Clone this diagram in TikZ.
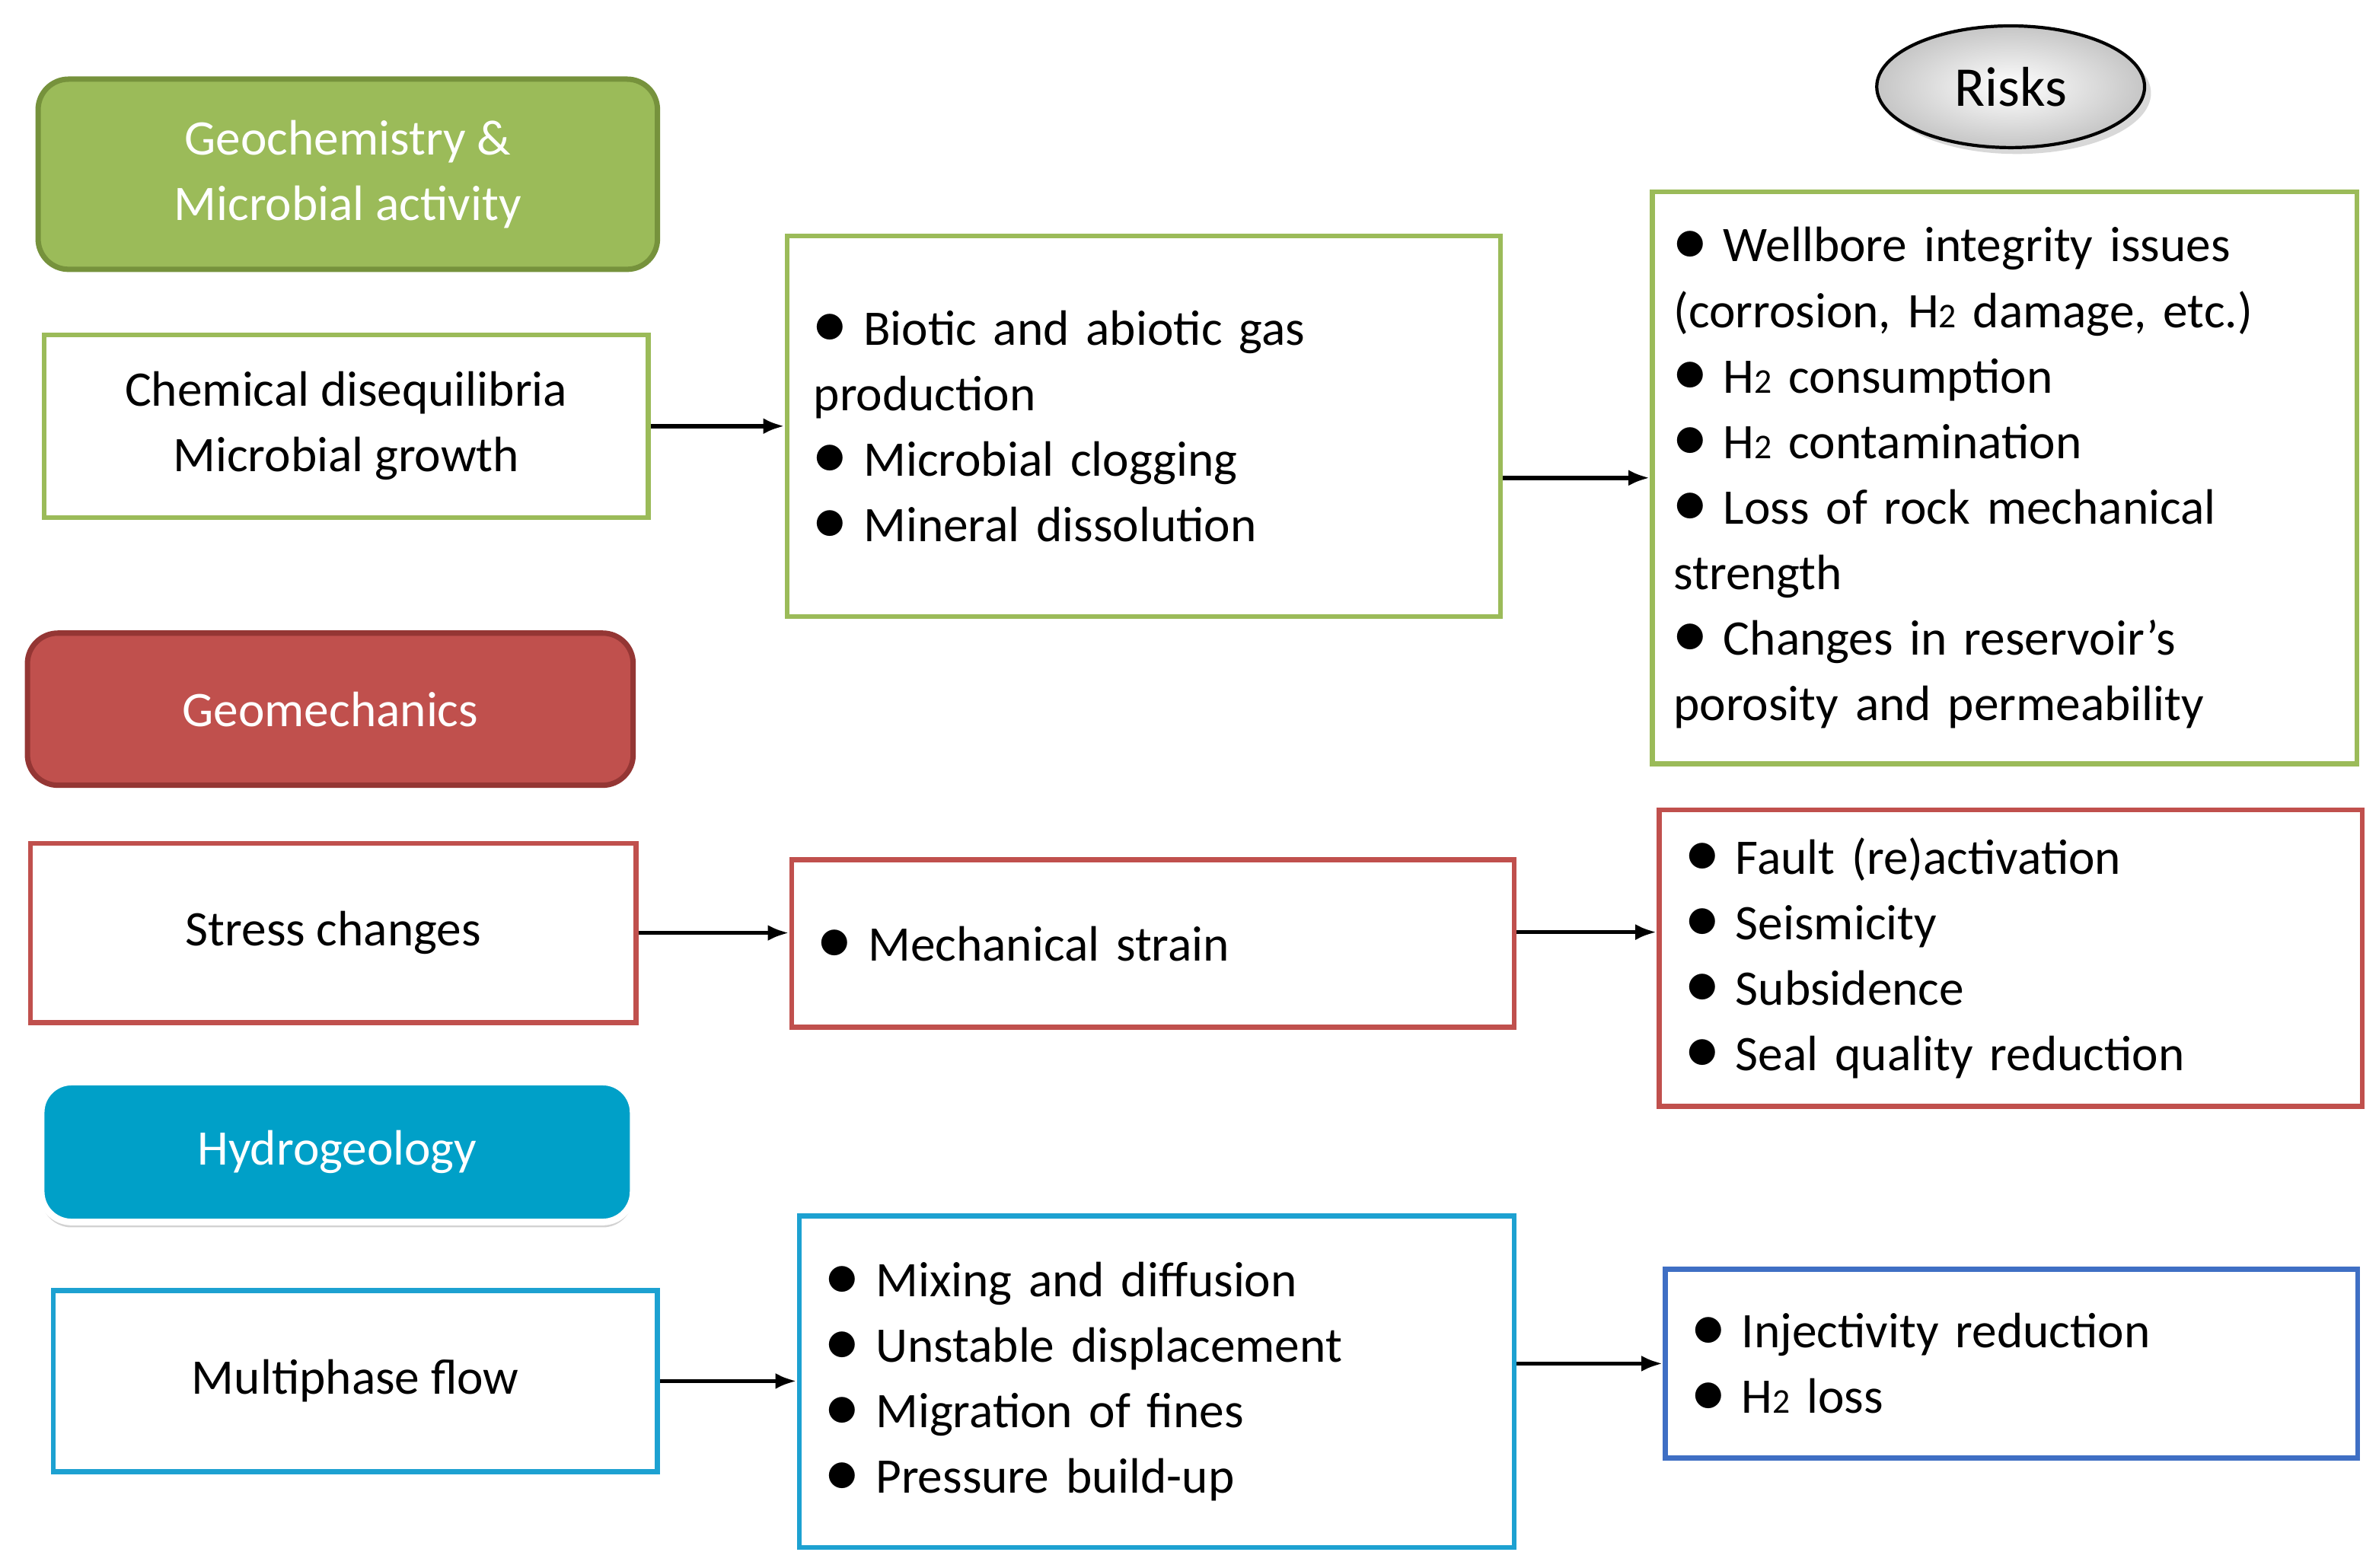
\documentclass[tikz,border=0pt]{standalone}
\usepackage{fontspec}
\setmainfont{Carlito}
\usetikzlibrary{arrows.meta,shadows,shapes.geometric}
\definecolor{gA}{HTML}{9BBB59}\definecolor{gB}{HTML}{76923C}
\definecolor{rA}{HTML}{C0504D}\definecolor{rB}{HTML}{943634}
\definecolor{cA}{HTML}{00A0C8}\definecolor{cB}{HTML}{1DA1D1}
\definecolor{bB}{HTML}{3F6FC4}
\newcommand{\bl}{\raisebox{0.05ex}{\fontsize{26}{20}\selectfont$\bullet$}\ }
\newcommand{\Hh}{H{\fontsize{13}{13}\selectfont 2}}
\tikzset{
 every node/.style={font=\fontsize{18.6}{24.5}\selectfont},
 hdr/.style={draw, line width=2pt, rounded corners=0.4cm, text=white, align=center},
 box/.style={draw, line width=1.8pt, fill=white, align=center},
 lst/.style={draw, line width=1.8pt, fill=white, align=left, inner xsep=0.35cm},
 arr/.style={line width=1.6pt, -{Latex[length=8pt,width=6pt]}}
}
\begin{document}
\begin{tikzpicture}[x=0.02cm,y=-0.02cm]
\useasboundingbox[fill=white] (0,0) rectangle (1563,1030);
\node[hdr, fill=gA, draw=gB, minimum width=8.14cm, minimum height=2.5cm] (geoh) at (228.5,114.5) {Geochemistry \&\\Microbial activity};
\node[box, draw=gA, minimum width=7.94cm, minimum height=2.4cm] (chem) at (227.5,280) {Chemical disequilibria\\Microbial growth};
\node[lst, draw=gA, minimum width=9.38cm, minimum height=5cm, text width=8.68cm] (mid1) at (751.5,280) {\bl Biotic and abiotic gas\\production\\\bl Microbial clogging\\\bl Mineral dissolution};
\node[lst, draw=gA, minimum width=9.16cm, minimum height=7.52cm, text width=8.7cm, inner xsep=0.28cm] (risk1) at (1317,314) {\bl Wellbore integrity issues\\(corrosion, \Hh{} damage, etc.)\\\bl \Hh{} consumption\\\bl \Hh{} contamination\\\bl Loss of rock mechanical\\strength\\\bl Changes in reservoir's\\porosity and permeability};
\node[ellipse, draw, line width=1.2pt, inner color=white, outer color=gray!45, minimum width=3.52cm, minimum height=1.6cm, drop shadow={opacity=0.3}] (risks) at (1321,57) {\fontsize{21}{22}\selectfont Risks};
\node[hdr, fill=rA, draw=rB, minimum width=7.96cm, minimum height=2cm] (gmh) at (217,466) {Geomechanics};
\node[box, draw=rA, minimum width=7.96cm, minimum height=2.36cm] (stress) at (219,613) {Stress changes};
\node[lst, draw=rA, minimum width=9.5cm, minimum height=2.2cm, text width=8.8cm] (mech) at (757.5,620) {\bl Mechanical strain};
\node[lst, draw=rA, minimum width=9.24cm, minimum height=3.9cm, text width=8.54cm] (risk2) at (1321,629.5) {\bl Fault (re)activation\\\bl Seismicity\\\bl Subsidence\\\bl Seal quality reduction};
\node[hdr, fill=cA, draw=white, line width=2.5pt, minimum width=7.78cm, minimum height=1.84cm, drop shadow={opacity=0.35,shadow xshift=0pt,shadow yshift=-2pt}] (hyh) at (221.5,757) {Hydrogeology};
\node[box, draw=cB, minimum width=7.94cm, minimum height=2.38cm] (multi) at (233.5,907.5) {Multiphase flow};
\node[lst, draw=cB, minimum width=9.4cm, minimum height=4.36cm, text width=8.7cm] (mid3) at (760,908) {\bl Mixing and diffusion\\\bl Unstable displacement\\\bl Migration of fines\\\bl Pressure build-up};
\node[lst, draw=bB, minimum width=9.1cm, minimum height=2.48cm, text width=8.4cm] (risk3) at (1321.5,896) {\bl Injectivity reduction\\\bl \Hh{} loss};
\draw[arr] (chem.east) -- (chem.east -| mid1.west);
\draw[arr] (mid1.east |- risk1.west) -- (risk1.west);
\draw[arr] (stress.east) -- (stress.east -| mech.west);
\draw[arr] ([yshift=0.15cm]mech.east) -- ([yshift=0.15cm]mech.east -| risk2.west);
\draw[arr] (multi.east) -- (multi.east -| mid3.west);
\draw[arr] (mid3.east |- risk3.west) -- (risk3.west);
\end{tikzpicture}
\end{document}
